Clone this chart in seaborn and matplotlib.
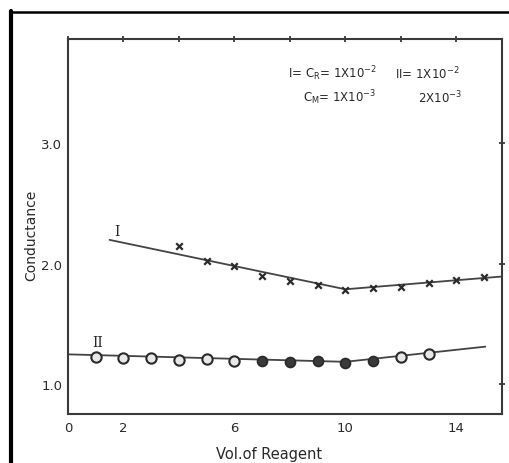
import matplotlib
matplotlib.use("Agg")
import matplotlib.pyplot as plt
from matplotlib.lines import Line2D
import seaborn as sns
import pandas as pd

# Titration curves: conductance vs. volume of reagent
vol_i = [4, 5, 6, 7, 8, 9, 10, 11, 12, 13, 14, 15]
cond_i = [2.149, 2.025, 1.983, 1.900, 1.859, 1.826, 1.784, 1.801, 1.809, 1.842, 1.867, 1.892]

vol_ii = [1, 2, 3, 4, 5, 6, 7, 8, 9, 10, 11, 12, 13]
cond_ii = [1.226, 1.220, 1.217, 1.203, 1.209, 1.198, 1.192, 1.189, 1.195, 1.176, 1.198, 1.231, 1.253]
filled_ii = [False, False, False, False, False, False, True, True, True, True, True, False, False]

# Fitted straight-line segments meeting at the end point (10 ml)
fit_i_x = [1.5, 10, 15.6]
fit_i_y = [2.20, 1.79, 1.895]
fit_ii_x = [0, 10, 15.05]
fit_ii_y = [1.25, 1.188, 1.314]

x_ticks = [0, 2, 4, 6, 8, 10, 12, 14]
x_ticklabels = ["0", "2", "", "6", "", "10", "", "14"]
y_ticks = [1.0, 2.0, 3.0]
y_ticklabels = ["1.0", "2.0", "3.0"]

sns.set_theme(style="white")
plt.rcParams["font.family"] = ["DejaVu Sans"]
plt.rcParams["mathtext.fontset"] = "dejavusans"

ink = "#2a2a2a"
fig = plt.figure(figsize=(5.09, 4.64), dpi=100)
ax = fig.add_axes([68 / 509, 49 / 464, 434 / 509, 375 / 464])

df_i = pd.DataFrame({"vol": vol_i, "cond": cond_i})
df_ii = pd.DataFrame({"vol": vol_ii, "cond": cond_ii, "filled": filled_ii})

sns.lineplot(x=fit_i_x, y=fit_i_y, ax=ax, color="#444444", linewidth=1.3, sort=False)
sns.lineplot(x=fit_ii_x, y=fit_ii_y, ax=ax, color="#444444", linewidth=1.3, sort=False)

sns.scatterplot(data=df_i, x="vol", y="cond", ax=ax, marker="x", s=22,
                color=ink, linewidth=1.6, zorder=3)
open_pts = df_ii[~df_ii["filled"]]
full_pts = df_ii[df_ii["filled"]]
sns.scatterplot(data=open_pts, x="vol", y="cond", ax=ax, marker="o", s=55,
                facecolor="#e8e8e8", edgecolor=ink, linewidth=1.5, zorder=3)
sns.scatterplot(data=full_pts, x="vol", y="cond", ax=ax, marker="o", s=50,
                facecolor="#3a3a3a", edgecolor=ink, linewidth=1.3, zorder=3)

ax.set_xlim(0, 15.65)
ax.set_ylim(0.755, 3.867)
ax.set_xticks(x_ticks)
ax.set_xticklabels(x_ticklabels)
ax.set_yticks(y_ticks)
ax.set_yticklabels(y_ticklabels)
ax.tick_params(axis="both", which="both", direction="inout", length=4, width=1.2,
               color=ink, labelcolor=ink, labelsize=9.5, top=True, right=True,
               labeltop=False, labelright=False)
ax.tick_params(axis="x", pad=3)
ax.tick_params(axis="y", pad=2)
for sp in ax.spines.values():
    sp.set_visible(True)
    sp.set_color("#3a3a3a")
    sp.set_linewidth(1.5)

ax.set_xlabel("Vol.of Reagent", fontsize=10.5, color=ink)
ax.set_ylabel("Conductance", fontsize=10, color=ink)
ax.xaxis.set_label_coords(0.463, -0.086)
ax.yaxis.set_label_coords(-0.068, 0.48)

serif = ["DejaVu Serif"]
ax.text(1.75, 2.27, "I", fontsize=10, family=serif, color=ink, ha="center", va="center")
ax.text(1.07, 1.355, "II", fontsize=10, family=serif, color=ink, ha="center", va="center")

tk = dict(transform=ax.transAxes, fontsize=8.5, color=ink, va="center", ha="left")
ax.text(0.507, 0.909, r"I= C$_\mathregular{R}$= 1X10$^{-2}$", **tk)
ax.text(0.753, 0.909, r"II= 1X10$^{-2}$", **tk)
ax.text(0.541, 0.845, r"C$_\mathregular{M}$= 1X10$^{-3}$", **tk)
ax.text(0.807, 0.845, r"2X10$^{-3}$", **tk)

if ax.get_legend() is not None:
    ax.get_legend().remove()

# Page frame along the top and left edges
fig.add_artist(Line2D([10 / 509, 1.0], [1 - 13 / 464, 1 - 13 / 464],
                      transform=fig.transFigure, color="black", linewidth=1.8))
fig.add_artist(Line2D([10.5 / 509, 10.5 / 509], [0, 1 - 12 / 464],
                      transform=fig.transFigure, color="black", linewidth=3))

fig.savefig("out.png", dpi=100, facecolor="white")
